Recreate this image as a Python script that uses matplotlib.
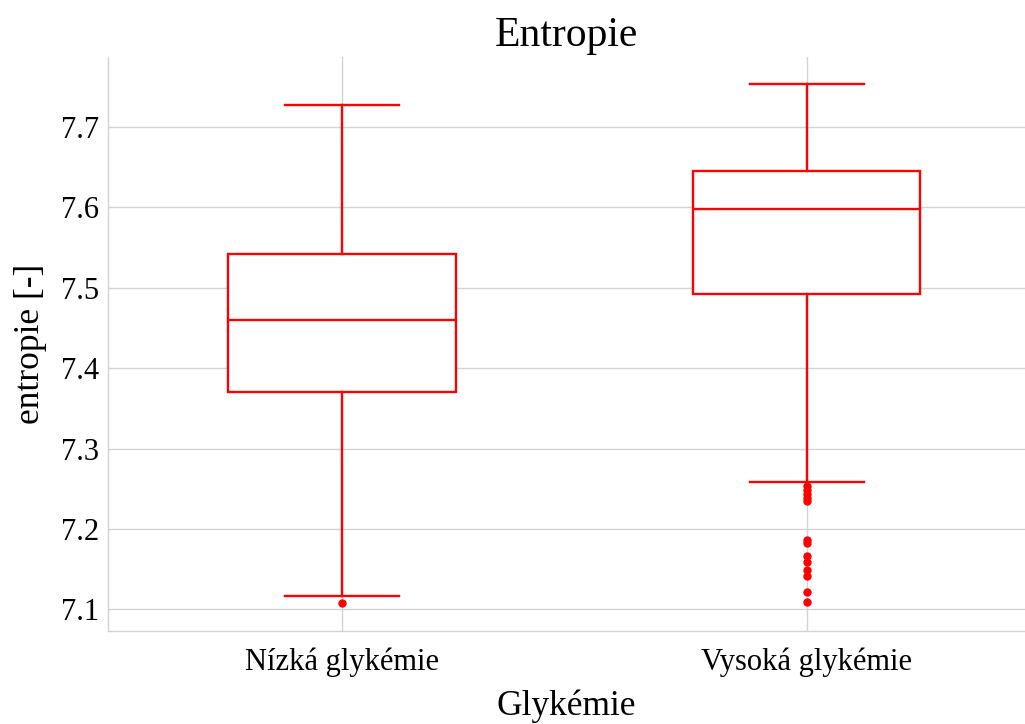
import numpy as np
import matplotlib.pyplot as plt

# Box statistics
categories = ["Nízká glykémie", "Vysoká glykémie"]
whisker_low = [7.117, 7.259]
q1 = [7.370, 7.492]
median = [7.460, 7.598]
q3 = [7.542, 7.646]
whisker_high = [7.727, 7.754]
outliers = [
    [7.108],
    [7.254, 7.249, 7.244, 7.239, 7.235,
     7.186, 7.182, 7.166, 7.159, 7.149, 7.142, 7.121, 7.109],
]

plt.rcParams['font.family'] = ['Liberation Serif', 'DejaVu Serif']

RED = "#ff0000"
GRID = "#d3d3d3"

fig = plt.figure(figsize=(10.25, 7.24), dpi=100)
ax = fig.add_axes([0.105, 0.128, 0.895, 0.793])

stats = []
for i, name in enumerate(categories):
    stats.append(dict(label=name, whislo=whisker_low[i], q1=q1[i], med=median[i],
                      q3=q3[i], whishi=whisker_high[i], fliers=outliers[i]))

ax.bxp(stats, positions=range(len(categories)), widths=0.49, patch_artist=True,
       boxprops=dict(facecolor="white", edgecolor=RED, linewidth=1.7),
       medianprops=dict(color=RED, linewidth=1.7),
       whiskerprops=dict(color=RED, linewidth=1.7),
       capprops=dict(color=RED, linewidth=1.7),
       flierprops=dict(marker="o", markerfacecolor=RED, markeredgecolor=RED,
                       markersize=5),
       capwidths=0.245, zorder=3)

ax.set_xlim(-0.505, 1.47)
ax.set_ylim(7.0726, 7.787)
ax.set_yticks([7.1, 7.2, 7.3, 7.4, 7.5, 7.6, 7.7])
ax.set_xticks(range(len(categories)))
ax.set_xticklabels(categories)

ax.grid(True, color=GRID, linewidth=1.0, zorder=0)
ax.set_axisbelow(True)
for side in ["top", "right"]:
    ax.spines[side].set_visible(False)
for side in ["left", "bottom"]:
    ax.spines[side].set_color(GRID)
    ax.spines[side].set_linewidth(1.0)
ax.tick_params(length=0, labelsize=22)
ax.tick_params(axis="x", pad=12)
ax.tick_params(axis="y", pad=6)

ax.set_title("Entropie", fontsize=30, pad=8)
ax.set_ylabel("entropie [-]", fontsize=25.5, labelpad=10)
ax.set_xlabel("Glykémie", fontsize=25.5, labelpad=9)

fig.savefig("out.png", dpi=100)
